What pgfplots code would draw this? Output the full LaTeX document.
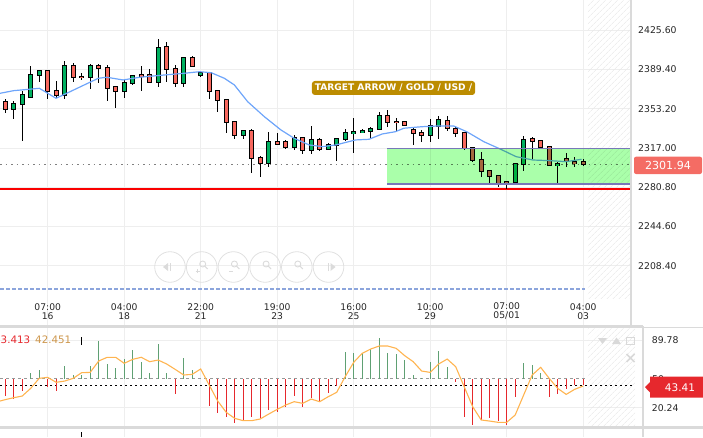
\documentclass[border=0pt]{standalone}
\usepackage{fontspec}
\setmainfont{DejaVu Sans}
\usepackage{pgfplots}
\usepackage{pgfplotstable}
\pgfplotsset{compat=1.18}
\usetikzlibrary{patterns.meta}

\definecolor{candG}{RGB}{0,176,96}
\definecolor{candR}{RGB}{247,104,94}
\definecolor{maBlue}{RGB}{110,165,250}
\definecolor{boxGreen}{RGB}{170,255,170}
\definecolor{boxLine}{RGB}{120,120,185}
\definecolor{lineRed}{RGB}{250,0,0}
\definecolor{dashBlue}{RGB}{140,165,220}
\definecolor{labelGold}{RGB}{188,140,0}
\definecolor{priceRed}{RGB}{244,108,100}
\definecolor{indRed}{RGB}{230,40,45}
\definecolor{indGreen}{RGB}{95,160,115}
\definecolor{indOrange}{RGB}{255,180,80}
\definecolor{tanText}{RGB}{205,150,75}
\definecolor{sepGray}{RGB}{218,218,218}
\definecolor{gridGray}{RGB}{238,238,238}

\pgfplotstableread{
i o h l c
0 2359.4 2361.9 2349.5 2352.7
1 2352.7 2360.6 2344.0 2357.3
2 2357.3 2369.5 2323.7 2365.6
3 2364.3 2392.6 2363.1 2384.0
4 2384.0 2389.2 2378.1 2387.7
5 2387.7 2388.6 2362.4 2369.3
6 2369.3 2379.0 2363.1 2365.6
7 2365.6 2397.5 2362.4 2392.3
8 2392.3 2395.1 2377.8 2382.2
9 2382.2 2385.9 2379.7 2382.0
10 2382.2 2394.4 2371.7 2392.3
11 2392.3 2394.4 2377.2 2390.5
12 2390.5 2393.2 2360.6 2372.0
13 2372.9 2372.9 2354.1 2369.3
14 2369.3 2379.4 2363.4 2376.6
15 2376.6 2384.6 2374.8 2383.1
16 2384.0 2392.3 2369.3 2383.1
17 2384.0 2389.5 2376.6 2378.1
18 2378.1 2417.2 2373.5 2408.9
19 2409.8 2414.4 2378.1 2389.5
20 2389.5 2393.2 2372.9 2376.6
21 2376.6 2400.0 2372.9 2399.7
22 2399.7 2401.8 2391.4 2392.3
23 2384.0 2387.7 2382.2 2385.9
24 2385.9 2385.9 2361.9 2369.3
25 2369.3 2369.3 2350.5 2361.0
26 2361.0 2361.0 2330.5 2340.7
27 2340.7 2341.6 2325.0 2328.7
28 2328.7 2332.9 2325.0 2332.4
29 2332.4 2334.2 2294.2 2307.5
30 2307.5 2309.6 2290.5 2302.9
31 2302.9 2331.5 2299.2 2322.3
32 2322.3 2330.5 2320.7 2320.7
33 2322.3 2324.1 2315.8 2317.6
34 2317.6 2328.7 2315.2 2325.9
35 2325.9 2325.9 2311.2 2314.9
36 2314.9 2337.6 2311.2 2324.1
37 2324.1 2325.9 2314.0 2315.8
38 2315.8 2321.3 2315.8 2319.5
39 2319.5 2325.9 2304.7 2325.0
40 2325.0 2334.2 2323.2 2330.5
41 2330.5 2344.4 2312.1 2331.5
42 2331.5 2334.2 2330.5 2332.4
43 2332.4 2336.1 2325.9 2334.2
44 2334.2 2349.9 2334.2 2346.2
45 2346.2 2351.7 2336.1 2340.7
46 2340.7 2344.4 2331.5 2340.5
47 2340.7 2340.7 2337.0 2337.9
48 2333.3 2336.1 2319.5 2330.5
49 2330.5 2333.3 2322.3 2328.7
50 2328.7 2343.5 2322.3 2337.0
51 2337.0 2346.2 2325.0 2342.5
52 2341.6 2346.2 2332.4 2335.2
53 2334.2 2337.0 2326.9 2330.5
54 2330.5 2330.5 2314.9 2316.7
55 2316.7 2316.7 2303.8 2305.7
56 2305.7 2313.0 2290.0 2295.5
57 2295.5 2295.5 2284.5 2290.9
58 2290.9 2290.9 2281.3 2283.5
59 2285.4 2285.4 2278.9 2283.5
60 2285.4 2302.0 2283.5 2302.0
61 2302.0 2327.8 2295.5 2324.1
62 2325.0 2326.9 2306.6 2323.2
63 2323.2 2324.1 2317.6 2317.6
64 2317.6 2318.6 2300.1 2301.1
65 2301.1 2303.8 2284.5 2302.0
66 2306.6 2312.1 2299.2 2305.7
67 2303.8 2308.4 2299.2 2302.9
68 2303.8 2306.6 2300.1 2301.94
}\candles

\pgfplotstableread{
i o c
1 2352.7 2357.3
2 2357.3 2365.6
3 2364.3 2384.0
4 2384.0 2387.7
7 2365.6 2392.3
10 2382.2 2392.3
14 2369.3 2376.6
15 2376.6 2383.1
18 2378.1 2408.9
21 2376.6 2399.7
23 2384.0 2385.9
28 2328.7 2332.4
31 2302.9 2322.3
34 2317.6 2325.9
36 2314.9 2324.1
38 2315.8 2319.5
39 2319.5 2325.0
40 2325.0 2330.5
41 2330.5 2331.5
42 2331.5 2332.4
43 2332.4 2334.2
44 2334.2 2346.2
50 2328.7 2337.0
51 2337.0 2342.5
60 2285.4 2302.0
61 2302.0 2324.1
65 2301.1 2302.0
}\greens

\pgfplotstableread{
i o c
0 2359.4 2352.7
5 2387.7 2369.3
6 2369.3 2365.6
8 2392.3 2382.2
9 2382.2 2382.0
11 2392.3 2390.5
12 2390.5 2372.0
13 2372.9 2369.3
16 2384.0 2383.1
17 2384.0 2378.1
19 2409.8 2389.5
20 2389.5 2376.6
22 2399.7 2392.3
24 2385.9 2369.3
25 2369.3 2361.0
26 2361.0 2340.7
27 2340.7 2328.7
29 2332.4 2307.5
30 2307.5 2302.9
32 2322.3 2320.7
33 2322.3 2317.6
35 2325.9 2314.9
37 2324.1 2315.8
45 2346.2 2340.7
46 2340.7 2340.5
47 2340.7 2337.9
48 2333.3 2330.5
49 2330.5 2328.7
52 2341.6 2335.2
53 2334.2 2330.5
54 2330.5 2316.7
55 2316.7 2305.7
56 2305.7 2295.5
57 2295.5 2290.9
58 2290.9 2283.5
59 2285.4 2283.5
62 2325.0 2323.2
63 2323.2 2317.6
64 2317.6 2301.1
66 2306.6 2305.7
67 2303.8 2302.9
68 2303.8 2301.94
}\reds

\pgfplotstableread{
i v
3 56.2
4 58.9
7 62.7
8 53.8
9 53.8
10 62.7
11 88.7
12 64.8
13 61.3
14 70.2
15 79.5
16 66.8
17 55.5
18 85.3
19 55.5
21 70.9
22 58.9
40 77.1
41 76.1
42 76.1
43 80.5
44 92.1
45 76.1
46 75.1
47 69.2
48 53.8
49 51.0
50 66.8
51 78.5
52 62.3
61 65.8
62 64.1
63 55.5
}\indG

\pgfplotstableread{
i v
0 32.2
1 29.1
2 37.7
5 41.8
6 37.7
20 34.0
24 22.3
25 14.5
26 11.0
27 4.2
28 7.6
29 11.0
30 10.0
31 17.8
32 15.5
33 21.2
34 32.2
35 21.2
36 29.9
37 27.1
38 35.0
39 42.8
53 46.3
54 11.0
55 2.4
56 7.6
57 9.3
58 6.9
59 2.4
60 31.5
64 31.5
65 34.0
66 39.4
67 43.5
68 43.41
}\indR

\pgfplotsset{
  ebar/.style 2 args={draw=none, mark=none, forget plot,
    error bars/.cd, y dir=both, y explicit, error mark=none,
    error bar style={line width=#1, draw=#2, line cap=butt}},
}

\begin{document}
\begin{tikzpicture}[x=1pt,y=1pt]
\useasboundingbox (0pt,0pt) rectangle (703pt,437pt);

% ---------------- main price panel ----------------
\begin{axis}[
  at={(0pt,111pt)}, anchor=south west,
  scale only axis, width=631pt, height=326pt,
  xmin=-0.612, xmax=73.62, ymin=2152.9, ymax=2453.4,
  axis line style={draw=none},
  major tick length=0pt,
  xtick={5,14,23,32,41,50,59,68},
  xticklabels={{07:00\\16},{04:00\\18},{22:00\\21},{19:00\\23},{16:00\\25},{10:00\\29},{07:00\\05/01},{04:00\\03}},
  xticklabel style={align=center, anchor=south, inner sep=0pt, yshift=6pt,
    font=\fontsize{9.2}{9.3}\selectfont, text=black!85},
  ytick={2208.4,2244.6,2280.8,2317,2353.2,2389.4,2425.6},
  yticklabels={2208.40,2244.60,2280.80,2317.00,2353.20,2389.40,2425.60},
  yticklabel pos=right,
  yticklabel style={anchor=west, inner sep=0pt, xshift=7pt,
    font=\fontsize{9.3}{10}\selectfont, text=black!85},
  grid=major, major grid style={gridGray, line width=0.9pt},
]
% hatched future area
\fill[pattern={Lines[angle=45,distance=4pt,line width=0.5pt]}, pattern color=black!10]
  (axis cs:68.56,2178.7) rectangle (axis cs:73.62,2453.4);
% horizontal lines
\addplot[dashBlue, line width=1.6pt, dash pattern=on 4pt off 2pt] coordinates {(-0.612,2187.0) (68.2,2187.0)};
\addplot[lineRed, line width=2pt] coordinates {(-0.612,2279.2) (73.62,2279.2)};
\addplot[gray, line width=1.2pt, dash pattern=on 1.5pt off 4pt] coordinates {(-0.612,2301.94) (73.62,2301.94)};
% wicks
\addplot[ebar={1.1pt}{black}]
  table[x=i, y expr={(\thisrow{h}+\thisrow{l})/2}, y error expr={(\thisrow{h}-\thisrow{l})/2}] {\candles};
% body outlines
\addplot[ebar={5.4pt}{black}]
  table[x=i, y expr={(\thisrow{o}+\thisrow{c})/2}, y error expr={abs(\thisrow{o}-\thisrow{c})/2+0.9}] {\candles};
% green bodies
\addplot[ebar={3.4pt}{candG}]
  table[x=i, y expr={(\thisrow{o}+\thisrow{c})/2}, y error expr={abs(\thisrow{o}-\thisrow{c})/2}] {\greens};
% red bodies
\addplot[ebar={3.4pt}{candR}]
  table[x=i, y expr={(\thisrow{o}+\thisrow{c})/2}, y error expr={abs(\thisrow{o}-\thisrow{c})/2}] {\reds};
% moving average
\addplot[maBlue, line width=1.2pt] coordinates {
(-0.6,2367.4) (0.97,2369.8) (4.02,2372.0) (5.98,2362.8) (7.23,2367.4) (10.94,2381.2)
(11.92,2382.2) (13.87,2379.7) (15.83,2382.2) (18.76,2384.3) (21.1,2385.9) (22.86,2387.3)
(24.23,2386.4) (25.79,2381.2) (26.96,2375.1) (28.52,2359.7) (30.48,2345.9) (32.44,2333.6)
(34.0,2325.9) (35.76,2319.8) (37.3,2318.2) (38.9,2319.8) (41.2,2324.4) (42.8,2325.0)
(44.35,2329.9) (45.9,2332.0) (46.9,2335.2) (49.0,2336.6) (51.0,2337.3) (52.75,2337.3)
(54.3,2332.0) (56.3,2322.8) (58.3,2315.8) (60.1,2309.0) (62.1,2305.9) (64.1,2305.3)
(66.0,2304.4) (67.8,2306.6)};
% target zone
\fill[boxGreen, blend mode=multiply] (axis cs:44.92,2283.5) rectangle (axis cs:73.62,2316.6);
\addplot[boxLine, line width=1.8pt] coordinates {(44.92,2316.6) (73.62,2316.6)};
\addplot[boxLine, line width=1.8pt] coordinates {(44.92,2283.5) (73.62,2283.5)};
\end{axis}

% ---------------- indicator panel ----------------
\begin{axis}[
  at={(0pt,10pt)}, anchor=south west,
  scale only axis, width=643pt, height=99pt,
  xmin=-0.612, xmax=75.04, ymin=0.4, ymax=102.1,
  axis line style={draw=none},
  major tick length=0pt,
  xtick={5,14,23,32,41,50,59,68}, xticklabels={},
  ytick={20.24,89.78}, yticklabels={20.24,89.78},
  yticklabel pos=right,
  yticklabel style={anchor=west, inner sep=0pt, xshift=8.7pt,
    font=\fontsize{9.3}{10}\selectfont, text=black!85},
  grid=major, major grid style={gridGray, line width=0.9pt},
]
\fill[pattern={Lines[angle=45,distance=4pt,line width=0.5pt]}, pattern color=black!10]
  (axis cs:68.56,0.4) rectangle (axis cs:74.1,102.1);
\addplot[gray!80, line width=0.9pt, dash pattern=on 3pt off 3pt] coordinates {(-0.612,50) (68.2,50)};
\addplot[black, line width=1pt, dash pattern=on 1.5pt off 3.5pt] coordinates {(-0.612,43.41) (73.86,43.41)};
\addplot[ebar={1.3pt}{indGreen}]
  table[x=i, y expr={(\thisrow{v}+50)/2}, y error expr={abs(\thisrow{v}-50)/2}] {\indG};
\addplot[ebar={1.3pt}{indRed}]
  table[x=i, y expr={(\thisrow{v}+50)/2}, y error expr={abs(\thisrow{v}-50)/2}] {\indR};
\addplot[indOrange, line width=1.1pt] coordinates {
(-0.6,27.1) (0,28.5) (1,30.5) (2,32.2) (3,40.1) (4,50.4) (5,51.4) (6,46.3) (7,47.6) (8,50.4) (9,56.2)
(10,56.5) (11,68.2) (12,72.0) (13,72.0) (14,65.8) (15,69.9) (16,72.0) (17,67.5) (18,69.2) (19,65.1)
(20,59.6) (21,53.8) (22,54.5) (23,60.0) (24,43.5) (25,27.1) (26,15.5) (27,9.3) (28,6.9) (29,6.9)
(30,8.6) (31,13.7) (32,18.5) (33,23.0) (34,26.4) (35,24.7) (36,29.1) (37,26.4) (38,31.5) (39,36.0)
(40,52.1) (41,66.8) (42,76.1) (43,80.5) (44,83.6) (45,83.6) (46,81.2) (47,73.7) (48,67.5) (49,57.9)
(50,56.5) (51,65.1) (52,70.2) (53,62.4) (54,41.8) (55,21.3) (56,7.6) (57,6.5) (58,5.2) (59,5.2)
(60,12.7) (61,33.3) (62,53.8) (63,61.7) (64,50.4) (65,40.1) (66,33.9) (67,39.1) (68,42.5)};
\end{axis}

% ---------------- overlays ----------------
\foreach \gx in {47.7,124.2,200.7,277.2,353.7,430.2,506.7,583.2}
  \draw[gridGray, line width=0.9pt] (\gx,0) -- (\gx,8.5);
\draw[black, line width=0.8pt] (81,0) -- (81,5);
% separators
\draw[sepGray, line width=2.5pt] (631,437) -- (631,109.5);
\draw[sepGray, line width=3pt] (0,111) -- (643,111);
\draw[sepGray, line width=1.5pt] (643,109.5) -- (703,109.5);
\draw[sepGray, line width=3pt] (0,10) -- (703,10);
\draw[sepGray, line width=2pt] (643,111) -- (643,0);

% navigation buttons
\foreach \cx in {170,201.7,233.4,265.1,296.8,328.5}
  \draw[black!12, line width=0.8pt] (\cx,170) circle (15.3);
\fill[black!14] (163,170) -- (168,174) -- (168,166) -- cycle;
\draw[black!14, line width=1pt] (170,166) -- (170,174);
\fill[black!14] (335.5,170) -- (330.5,174) -- (330.5,166) -- cycle;
\draw[black!14, line width=1pt] (328.5,166) -- (328.5,174);
\foreach \cx in {201.7,233.4,265.1,296.8}{
  \draw[black!14, line width=0.9pt] (\cx+1,173) circle (3);
  \draw[black!14, line width=1.1pt] (\cx+3,171) -- (\cx+6,168);
}
\draw[black!14, line width=0.9pt] (195.7,166) -- (199.7,166) (197.7,164) -- (197.7,168);
\draw[black!14, line width=0.9pt] (229.4,166) -- (233.4,166);

% target label
\node[fill=labelGold, rounded corners=3pt, text=white, inner xsep=3pt, inner ysep=0pt,
  minimum height=14pt, font=\bfseries\fontsize{9.1}{9.5}\selectfont] at (393.5,349) {TARGET ARROW / GOLD / USD /};

% current price label
\fill[priceRed, rounded corners=2pt] (634,263) rectangle (702,280.3);
\node[text=white, font=\fontsize{11.1}{12}\selectfont, inner sep=0pt] at (668,271.7) {2301.94};

% indicator texts
\node[anchor=west, inner sep=0pt, text=indRed, font=\fontsize{10.3}{11}\selectfont] at (0.5,97) {3.413};
\node[anchor=west, inner sep=0pt, text=tanText, font=\fontsize{10.3}{11}\selectfont] at (35,97) {42.451};
\draw[black, line width=0.8pt] (81,92) -- (81,100);

% icons top right of indicator
\fill[black!15] (598,99) -- (607,99) -- (602.5,93) -- cycle;
\fill[black!15] (612,93) -- (621,93) -- (616.5,99.5) -- cycle;
\draw[black!15, line width=1pt] (626,92.5) rectangle (634,100);
\draw[black!15, line width=1.6pt] (626.5,75) -- (634.5,83) (626.5,83) -- (634.5,75);

% 50 label and current indicator value
\node[anchor=west, inner sep=0pt, text=black!85, font=\fontsize{9.3}{10}\selectfont] at (652,58) {50};
\fill[indRed] (645,49.8) -- (650,55) -- (650,60.3) -- (703,60.3) -- (703,39.3) -- (650,39.3) -- (650,44.6) -- cycle;
\node[text=white, font=\fontsize{10.5}{11}\selectfont, inner sep=0pt] at (680,49.7) {43.41};
\end{tikzpicture}
\end{document}
